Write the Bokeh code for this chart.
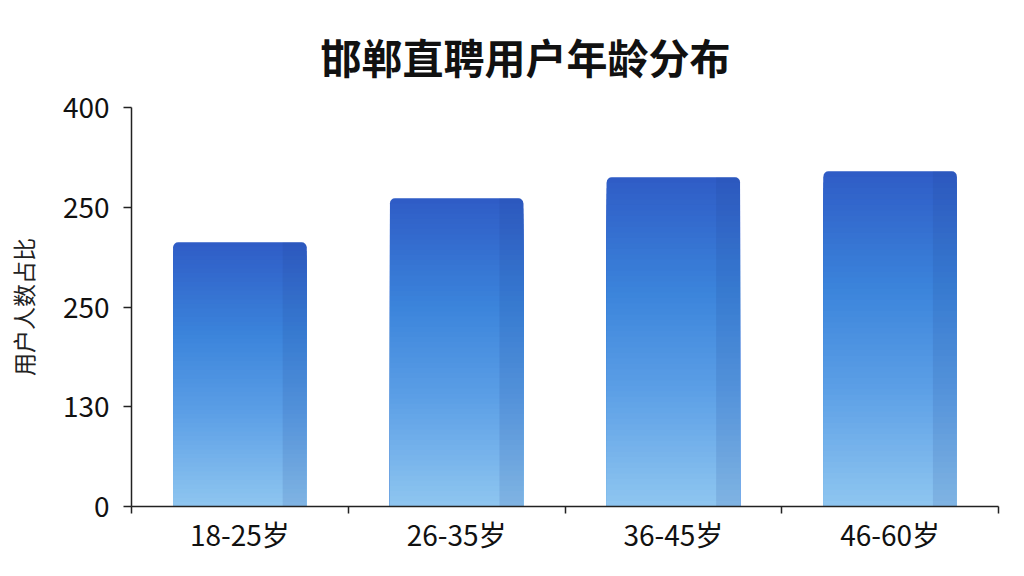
from bokeh.plotting import figure
from bokeh.models import Range1d, FixedTicker, LinearAxis
from bokeh.embed import file_html
from bokeh.resources import INLINE

# ---- data ----
title_text = "邯郸直聘用户年龄分布"
y_axis_label = "用户人数占比"
categories = ["18-25岁", "26-35岁", "36-45岁", "46-60岁"]
values = [265, 309, 330, 336]
y_ticks = [0, 100, 200, 300, 400]
y_tick_labels = ["0", "130", "250", "250", "400"]

FONT = "Noto Sans CJK SC"

# ---- style ----
bar_width = 0.615
strip_width = 0.11
n_slices = 60
stops = [(0.0, (0x8f, 0xc6, 0xf0)), (0.35, (0x5c, 0x9f, 0xe6)),
         (0.65, (0x3b, 0x84, 0xdb)), (1.0, (0x2f, 0x5c, 0xc6))]


def grad(f):
    for (f0, c0), (f1, c1) in zip(stops[:-1], stops[1:]):
        if f <= f1:
            t = (f - f0) / (f1 - f0) if f1 > f0 else 0
            c = [round(a + (b - a) * t) for a, b in zip(c0, c1)]
            return "#%02x%02x%02x" % tuple(c)
    return "#%02x%02x%02x" % stops[-1][1]


p = figure(width=1016, height=568, output_backend="svg", toolbar_location=None,
           x_range=Range1d(0, len(categories)), y_range=Range1d(0, 400),
           x_axis_type=None, y_axis_type=None,
           min_border_left=131, min_border_right=18, min_border_top=107,
           min_border_bottom=62)
p.outline_line_color = None
p.xgrid.visible = False
p.ygrid.visible = False
p.background_fill_color = "white"
p.border_fill_color = "white"

p.title.text = title_text
p.title.align = "left"
p.title.offset = 189
p.title.text_font = FONT
p.title.text_font_size = "41px"
p.title.text_font_style = "bold"
p.title.text_color = "#111111"
p.title.standoff = 44

xs = [i + 0.5 for i in range(len(categories))]

# full-height base with rounded top corners (top colour)
p.vbar(x=xs, top=values, bottom=0, width=bar_width, fill_color=grad(1.0),
       line_color=None, border_radius=(5, 5, 0, 0))

# gradient slices painted from tall to short
sx, st, sc = [], [], []
for k in range(n_slices - 1, 0, -1):
    f = k / n_slices
    for x, v in zip(xs, values):
        sx.append(x)
        st.append(v * f)
        sc.append(grad((k - 0.5) / n_slices))
p.vbar(x=sx, top=st, bottom=0, width=bar_width, fill_color=sc, line_color=None)

# darker right-hand side strip
strip_x = [x + bar_width / 2 - strip_width / 2 for x in xs]
p.vbar(x=strip_x, top=values, bottom=0, width=strip_width, fill_color="#1e3a8a",
       fill_alpha=0.13, line_color=None, border_radius=(0, 5, 0, 0))

# x axis: category labels at centres, ticks at boundaries
xaxis = LinearAxis(ticker=FixedTicker(ticks=xs, minor_ticks=list(range(len(categories) + 1))))
xaxis.major_label_overrides = {x: c for x, c in zip(xs, categories)}
xaxis.major_tick_in = 0
xaxis.major_tick_out = 0
xaxis.minor_tick_in = 0
xaxis.minor_tick_out = 7
xaxis.minor_tick_line_color = "#222222"
xaxis.minor_tick_line_width = 1.5
xaxis.axis_line_color = "#222222"
xaxis.axis_line_width = 1.5
xaxis.major_label_text_font = FONT
xaxis.major_label_text_font_size = "28px"
xaxis.major_label_text_color = "#111111"
xaxis.major_label_standoff = 0
p.add_layout(xaxis, "below")

yaxis = LinearAxis(ticker=FixedTicker(ticks=y_ticks, minor_ticks=[]))
yaxis.major_label_overrides = {t: l for t, l in zip(y_ticks, y_tick_labels)}
yaxis.major_tick_in = 0
yaxis.major_tick_out = 8
yaxis.major_tick_line_color = "#222222"
yaxis.major_tick_line_width = 1.5
yaxis.axis_line_color = "#222222"
yaxis.axis_line_width = 1.5
yaxis.major_label_text_font = FONT
yaxis.major_label_text_font_size = "28px"
yaxis.major_label_text_color = "#111111"
yaxis.major_label_standoff = 14
yaxis.axis_label = y_axis_label
yaxis.axis_label_text_font = FONT
yaxis.axis_label_text_font_size = "23px"
yaxis.axis_label_text_font_style = "normal"
yaxis.axis_label_text_color = "#222222"
yaxis.axis_label_standoff = 20
p.add_layout(yaxis, "left")

open("out.html", "w").write(file_html(p, INLINE))
